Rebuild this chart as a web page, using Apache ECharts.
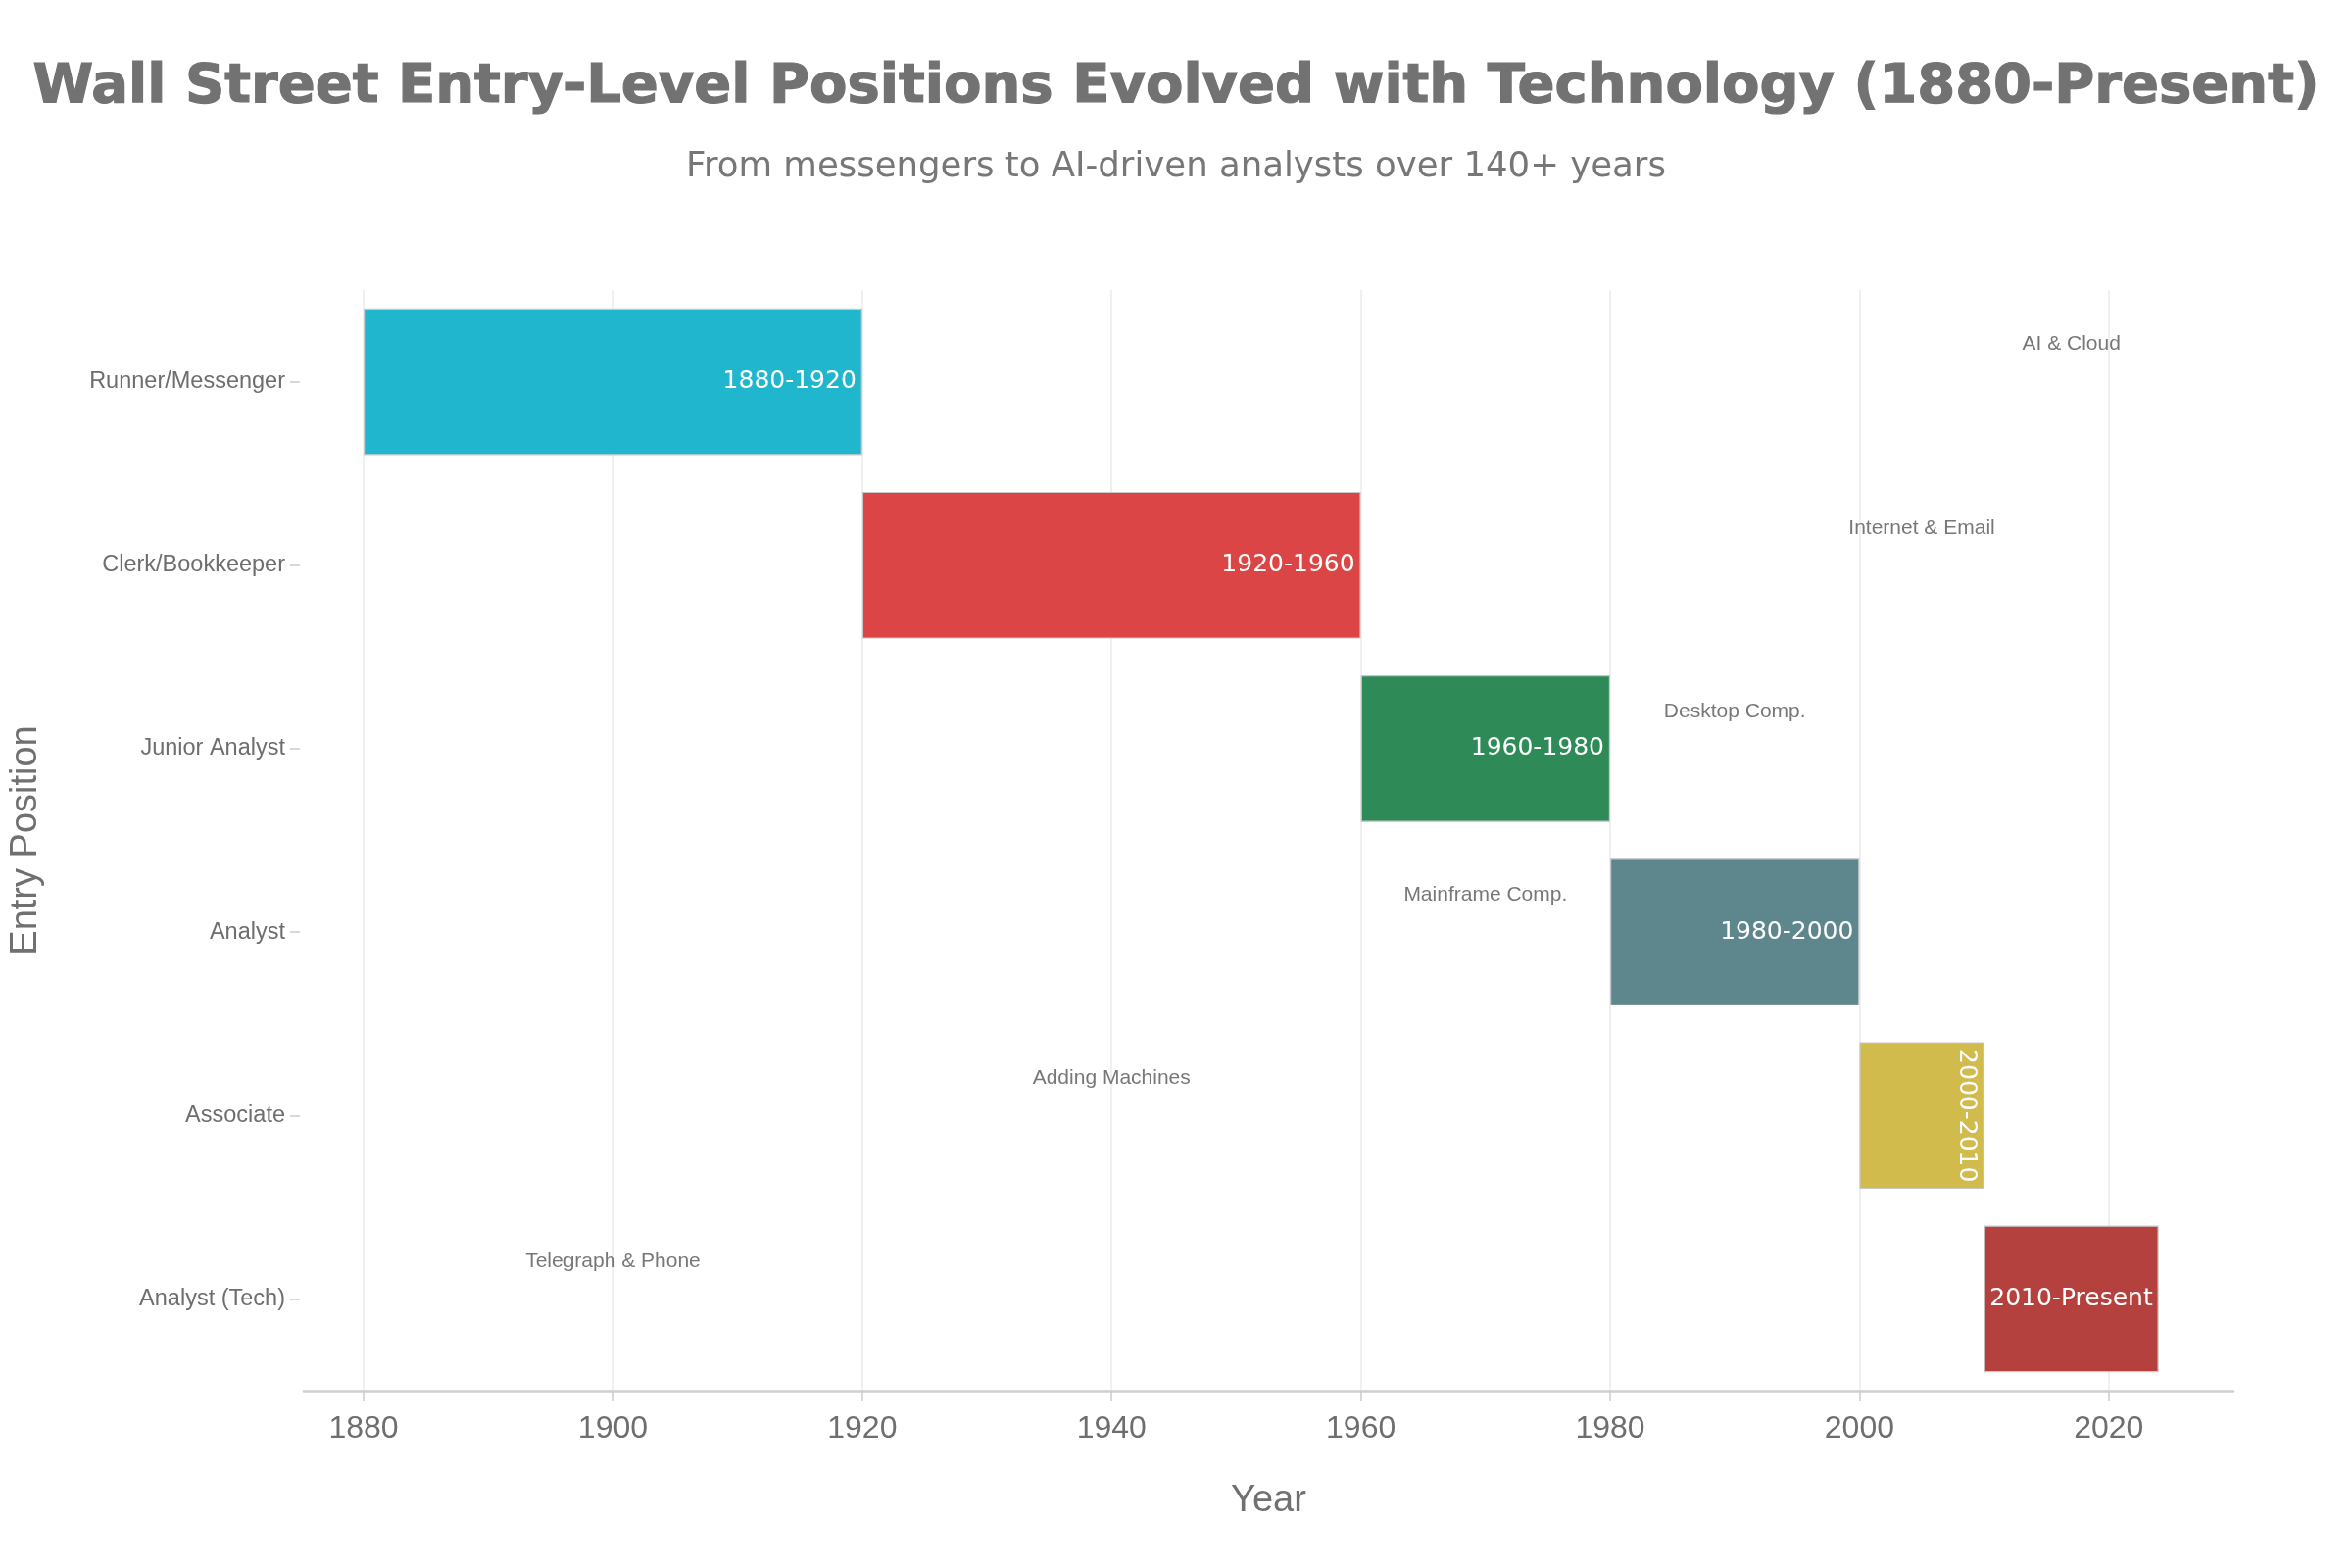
<!DOCTYPE html>
<html>
<head>
<meta charset="utf-8">
<title>Wall Street Entry-Level Positions</title>
<script src="https://cdn.jsdelivr.net/npm/echarts/dist/echarts.min.js"></script>
<style>
  html, body { margin: 0; padding: 0; background: #fff; }
  #chart { width: 2400px; height: 1600px; }
</style>
</head>
<body>
<div id="chart"></div>
<script>
// data
const positions = ['Runner/Messenger', 'Clerk/Bookkeeper', 'Junior Analyst', 'Analyst', 'Associate', 'Analyst (Tech)'];
const startYears = [1880, 1920, 1960, 1980, 2000, 2010];
const endYears = [1920, 1960, 1980, 2000, 2010, 2024];
const periodLabels = ['1880-1920', '1920-1960', '1960-1980', '1980-2000', '2000-2010', '2010-Present'];
const yearTicks = [1880, 1900, 1920, 1940, 1960, 1980, 2000, 2020];

// technology notes (placed as in the original figure)
const techNames = ['Telegraph & Phone', 'Adding Machines', 'Mainframe Comp.', 'Desktop Comp.', 'Internet & Email', 'AI & Cloud'];
const techYears = [1900, 1940, 1970, 1990, 2005, 2017];
const techRows = ['Analyst (Tech)', 'Associate', 'Analyst', 'Junior Analyst', 'Clerk/Bookkeeper', 'Runner/Messenger'];

const barColors = ['#20B7CE', '#DC4545', '#2E8B57', '#5E878D', '#D2BB4D', '#B5413E'];

const chart = echarts.init(document.getElementById('chart'));

const durations = startYears.map((s, i) => {
    const item = {
        value: endYears[i] - s,
        itemStyle: { color: barColors[i] }
    };
    // the short bar gets its label turned on its side
    if (positions[i] === 'Associate') {
        item.label = { rotate: -90, align: 'center', verticalAlign: 'top', distance: 6 };
    }
    return item;
});

const option = {
    backgroundColor: '#ffffff',
    animation: false,
    title: [
        {
            text: 'Wall Street Entry-Level Positions Evolved with Technology (1880-Present)',
            left: 'center',
            top: 56,
            textStyle: {
                fontFamily: 'DejaVu Sans',
                fontWeight: 'bold',
                fontSize: 56,
                color: '#727272',
                textBorderColor: '#727272',
                textBorderWidth: 1.2
            }
        },
        {
            text: 'From messengers to AI-driven analysts over 140+ years',
            left: 'center',
            top: 148,
            textStyle: {
                fontFamily: 'DejaVu Sans',
                fontWeight: 'normal',
                fontSize: 35.5,
                color: '#777777'
            }
        }
    ],
    grid: { left: 308, right: 121, top: 296, bottom: 181 },
    xAxis: {
        type: 'value',
        min: 1875.2,
        max: 2030,
        name: 'Year',
        nameLocation: 'middle',
        nameGap: 94,
        nameTextStyle: { fontFamily: 'Liberation Sans', fontSize: 38, color: '#707070' },
        axisLine: { show: true, lineStyle: { color: '#d0d0d0', width: 2.5 } },
        axisTick: { show: true, customValues: yearTicks, length: 11, lineStyle: { color: '#cccccc', width: 1.5 } },
        axisLabel: {
            customValues: yearTicks,
            margin: 23,
            fontFamily: 'Liberation Sans',
            fontSize: 32,
            color: '#6e6e6e',
            formatter: v => String(v)
        },
        splitLine: { show: true, lineStyle: { color: '#ebebeb', width: 1.5 } }
    },
    yAxis: {
        type: 'category',
        data: positions,
        inverse: true,
        offset: 4,
        name: 'Entry Position',
        nameLocation: 'middle',
        nameGap: 260,
        nameTextStyle: { fontFamily: 'Liberation Sans', fontSize: 38, color: '#707070' },
        axisLine: { show: false },
        axisTick: { show: true, alignWithLabel: true, length: 10, lineStyle: { color: '#cccccc', width: 1.5 } },
        axisLabel: {
            margin: 15,
            fontFamily: 'Liberation Sans',
            fontSize: 23.5,
            color: '#6e6e6e'
        },
        splitLine: { show: false }
    },
    series: [
        {
            // invisible offset so each bar starts at its first year
            type: 'bar',
            stack: 'span',
            barWidth: '80%',
            silent: true,
            itemStyle: { color: 'rgba(0,0,0,0)' },
            data: startYears
        },
        {
            type: 'bar',
            stack: 'span',
            barWidth: '80%',
            itemStyle: { borderColor: '#c8c8c8', borderWidth: 1.2 },
            label: {
                show: true,
                position: 'insideRight',
                distance: 6,
                fontFamily: 'DejaVu Sans',
                fontSize: 25,
                color: '#ffffff',
                formatter: p => periodLabels[p.dataIndex]
            },
            data: durations
        },
        {
            type: 'scatter',
            symbolSize: 1,
            silent: true,
            itemStyle: { color: 'rgba(0,0,0,0)' },
            label: {
                show: true,
                position: 'inside',
                offset: [0, -38],
                fontFamily: 'Liberation Sans',
                fontSize: 21,
                color: '#555555',
                formatter: p => techNames[p.dataIndex]
            },
            data: techYears.map((y, i) => [y, techRows[i]])
        }
    ]
};

chart.setOption(option);
</script>
</body>
</html>
